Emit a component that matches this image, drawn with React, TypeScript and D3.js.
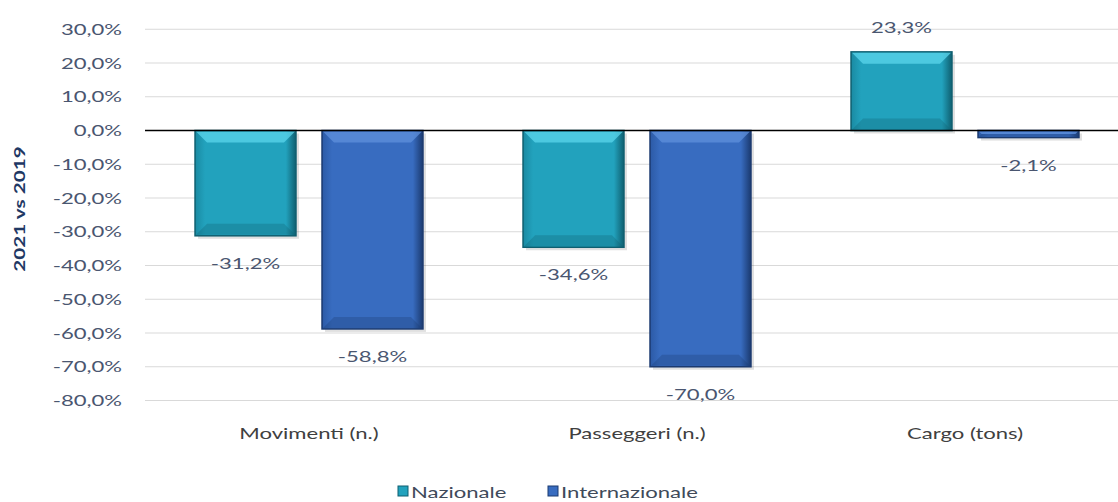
import React from "react";
import * as d3 from "d3";

const categories = ["Movimenti (n.)", "Passeggeri (n.)", "Cargo (tons)"];
const seriesNames = ["Nazionale", "Internazionale"];
const nazionale = [-31.2, -34.6, 23.3];
const internazionale = [-58.8, -70.0, -2.1];
const yTicks = [30, 20, 10, 0, -10, -20, -30, -40, -50, -60, -70, -80];

const W = 1118;
const H = 502;
const FONT = "Lato, 'Open Sans', sans-serif";
const SX = 1.38;

const colors = [
  { main: "#22a2bd", light: "#5bd6ec", dark: "#0f5f70", side: "#1a8aa2" },
  { main: "#386cc0", light: "#5f90dc", dark: "#1b3a70", side: "#2c5aa6" },
];

function T({ x, y, children, anchor = "middle", size = 16, fill = "#404a5a", weight = 400, rotate = 0, sx = SX }: any) {
  return (
    <text
      transform={`translate(${x},${y}) rotate(${rotate}) scale(${sx},1)`}
      textAnchor={anchor}
      fontSize={size}
      fontFamily={FONT}
      fill={fill}
      fontWeight={weight}
    >
      {children}
    </text>
  );
}

const fmt = (v: number) => v.toFixed(1).replace(".", ",") + "%";

export default function App() {
  const x0 = d3.scaleBand<string>().domain(categories).range([145, 1129]).paddingInner(0).paddingOuter(0);
  const x1 = d3.scaleBand<string>().domain(seriesNames).range([0, x0.bandwidth()]).paddingInner(0.205).paddingOuter(0.394);
  const y = d3.scaleLinear().domain([-80, 30]).range([400.5, 29.25]);
  const data = [nazionale, internazionale];

  return (
    <svg width={W} height={H} style={{ position: "absolute", left: 0, top: 0, background: "#fff" }}>
      <defs>
        {colors.map((c, i) => (
          <linearGradient key={i} id={`g${i}`} x1="0" x2="1" y1="0" y2="0">
            <stop offset="0" stopColor={c.side} />
            <stop offset="0.1" stopColor={c.main} />
            <stop offset="0.9" stopColor={c.main} />
            <stop offset="1" stopColor={c.dark} />
          </linearGradient>
        ))}
      </defs>
      {yTicks.map((t) => (
        <g key={t}>
          {t !== 0 && <line x1={145} x2={W} y1={y(t)} y2={y(t)} stroke="#d9d9d9" strokeWidth={1} />}
          <T x={122} y={y(t) + 5.5} anchor="end" size={16} fill="#4a5670">
            {fmt(t)}
          </T>
        </g>
      ))}
      {categories.map((cat, ci) =>
        seriesNames.map((s, si) => {
          const v = data[si][ci];
          const bx = (x0(cat) as number) + (x1(s) as number);
          const bw = x1.bandwidth();
          const top = y(Math.max(0, v));
          const bot = y(Math.min(0, v));
          const h = bot - top;
          const c = colors[si];
          const bev = Math.min(12, h / 2);
          const labelY = v >= 0 ? top - 19 : bot + 33;
          return (
            <g key={cat + s}>
              <rect x={bx + 3} y={top + 3} width={bw} height={h} fill="#000" opacity={0.12} />
              <rect x={bx} y={top} width={bw} height={h} fill={`url(#g${si})`} stroke={c.dark} strokeWidth={1.5} />
              <polygon
                points={`${bx + 1},${top + 1} ${bx + bw - 1},${top + 1} ${bx + bw - bev},${top + bev} ${bx + bev},${top + bev}`}
                fill={c.light}
                opacity={0.75}
              />
              <polygon
                points={`${bx + 1},${bot - 1} ${bx + bw - 1},${bot - 1} ${bx + bw - bev},${bot - bev} ${bx + bev},${bot - bev}`}
                fill={c.dark}
                opacity={0.3}
              />
              <T x={bx + bw / 2} y={labelY} size={16} fill="#4a5670">
                {fmt(v)}
              </T>
            </g>
          );
        })
      )}
      <line x1={145} x2={W} y1={y(0)} y2={y(0)} stroke="#000" strokeWidth={1.5} />
      {categories.map((cat) => (
        <T key={cat} x={(x0(cat) as number) + x0.bandwidth() / 2} y={439} size={16} fill="#404040">
          {cat}
        </T>
      ))}
      <T x={25} y={209} rotate={-90} size={15} weight={700} fill="#1f3864">
        2021 vs 2019
      </T>
      {seriesNames.map((s, i) => {
        const lx = i === 0 ? 398 : 548;
        return (
          <g key={s}>
            <rect x={lx} y={486} width={10} height={10} fill={colors[i].main} stroke={colors[i].dark} />
            <T x={lx + 13} y={498} anchor="start" size={16} fill="#404a5a">
              {s}
            </T>
          </g>
        );
      })}
    </svg>
  );
}
